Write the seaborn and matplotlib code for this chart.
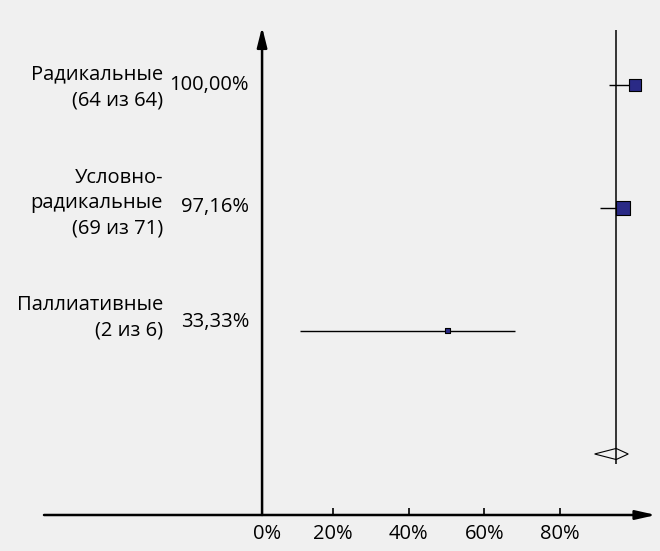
import pandas as pd
import matplotlib.pyplot as plt
import matplotlib.transforms as mtransforms
import seaborn as sns

# данные
groups = ['Радикальные\n(64 из 64)', 'Условно-\nрадикальные\n(69 из 71)', 'Паллиативные\n(2 из 6)']
pct_labels = ['100,00%', '97,16%', '33,33%']
n_total = [64, 71, 6]
est = [100.0, 96.6, 50.2]
ci_low = [93.0, 90.7, 11.1]
ci_high = [100.0, 97.5, 68.0]
pooled_low, pooled_est, pooled_high = 89.2, 94.9, 98.1
ticks = [0, 20, 40, 60, 80]

df = pd.DataFrame({'row': range(len(groups)), 'est': est, 'lo': ci_low, 'hi': ci_high, 'n': n_total})

sns.set_style('white', {'axes.facecolor': '#f0f0f0', 'figure.facecolor': '#f0f0f0',
                        'text.color': 'black', 'xtick.color': 'black'})
plt.rcParams['font.family'] = ['Open Sans', 'DejaVu Sans']
FS = 14.5

fig = plt.figure(figsize=(6.6, 5.51), dpi=100)
ax = fig.add_axes([44 / 660, 36 / 551, 612 / 660, 488 / 551])
ax.set_xlim(-56.6, 105.45)
ax.set_ylim(3.496, -0.4715)
for s in ax.spines.values():
    s.set_visible(False)

# доверительные интервалы и точки
ax.hlines(df['row'], df['lo'], df['hi'], color='black', lw=1.0, zorder=2)
sns.scatterplot(data=df, x='est', y='row', size='n', sizes={64: 75, 71: 100, 6: 13},
                marker='s', color='#2a2a86', edgecolor='black', linewidth=0.8,
                legend=False, ax=ax, zorder=3)

# суммарный ромб и линия
pr = len(groups)
ax.vlines(pooled_est, -0.447, pr + 0.08, color='black', lw=1.1, zorder=2)
ax.fill([pooled_low, pooled_est, pooled_high, pooled_est], [pr, pr - 0.045, pr, pr + 0.045],
        facecolor='none', edgecolor='black', lw=0.8, zorder=3)

# подписи слева
lab_shift = [0.02, -0.04, -0.11]
pct_shift = [0.0, -0.01, -0.07]
for i, (g, p) in enumerate(zip(groups, pct_labels)):
    ax.text(-25.1, i + lab_shift[i], g, ha='right', va='center', fontsize=FS,
            multialignment='right', linespacing=1.35, color='black')
    ax.text(-2.3, i + pct_shift[i], p, ha='right', va='center', fontsize=FS, color='black')

# оси со стрелками
ax.annotate('', xy=(1, 0), xytext=(0, 0), xycoords='axes fraction', annotation_clip=False,
            arrowprops=dict(arrowstyle='-|>,head_length=1.2,head_width=0.27', color='black',
                            lw=1.8, shrinkA=0, shrinkB=0, mutation_scale=10))
ax.annotate('', xy=(1.14, 1), xytext=(1.14, 0), xycoords=('data', 'axes fraction'), annotation_clip=False,
            arrowprops=dict(arrowstyle='-|>,head_length=1.2,head_width=0.3', color='black',
                            lw=1.8, shrinkA=0, shrinkB=0, mutation_scale=10))

ax.set_xticks(ticks[1:])
ax.set_xticklabels([f'{t}%' for t in ticks[1:]], fontsize=FS)
ax.set_yticks([])
ax.tick_params(axis='x', direction='in', length=5, width=1.2, pad=6.5, bottom=True,
               colors='black')
blend = mtransforms.blended_transform_factory(ax.transData, ax.transAxes)
ax.annotate(f'{ticks[0]}%', xy=(ticks[0] + 2.5, 0), xycoords=blend, xytext=(0, -6.5),
            textcoords='offset points', ha='center', va='top', fontsize=FS,
            color='black', annotation_clip=False)
ax.set_xlabel('')
ax.set_ylabel('')

fig.savefig('out.png', dpi=100, facecolor=fig.get_facecolor())
